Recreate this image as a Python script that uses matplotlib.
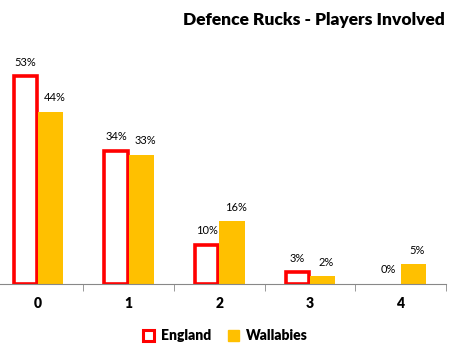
import numpy as np
import matplotlib.pyplot as plt
from matplotlib.patches import Patch

plt.rcParams['font.family'] = ['Lato', 'DejaVu Sans']

# данные
categories = ['0', '1', '2', '3', '4']
england = [53, 34, 10, 3, 0]
wallabies = [44, 33, 16, 2, 5]

red = '#FF0000'
gold = '#FFC000'

fig = plt.figure(figsize=(4.54, 3.53), dpi=100)
ax = fig.add_axes([0.0, (353 - 284) / 353, 446 / 454, 235 / 353])

x = np.arange(len(categories))
w = 0.26
lw = [2.6 if v > 0 else 0 for v in england]
ax.bar(x - w / 2 - 0.01, england, w, facecolor='white', edgecolor=red, linewidth=lw)
ax.bar(x + w / 2 + 0.01, wallabies, w + 0.02, color=gold)

# подписи значений
for i, v in enumerate(england):
    ax.text(i - w / 2 - 0.01, v + 2.2, f'{v}%', ha='center', va='bottom', fontsize=8)
for i, v in enumerate(wallabies):
    ax.text(i + w / 2 + 0.05, v + 2.2, f'{v}%', ha='center', va='bottom', fontsize=8)

ax.set_xlim(-0.42, 4.5)
ax.set_ylim(0, 60)
ax.set_yticks([])
for s in ['top', 'right', 'left']:
    ax.spines[s].set_visible(False)
ax.spines['bottom'].set_color('#888888')
ax.set_xticks(x)
ax.set_xticklabels(categories, fontweight='heavy', fontsize=10)
ax.tick_params(axis='x', length=0, pad=9)
ax.set_xticks(np.arange(0.5, 5, 1), minor=True)
ax.tick_params(axis='x', which='minor', length=5, color='#888888')

fig.text(445 / 454, 1 - 20 / 353, 'Defence Rucks - Players Involved', ha='right', va='center',
         fontsize=12.5, fontweight='heavy')

handles = [Patch(facecolor='white', edgecolor=red, linewidth=2.2),
           Patch(facecolor=gold, edgecolor=gold)]
fig.legend(handles, ['England', 'Wallabies'], loc='center', bbox_to_anchor=(225 / 454, 1 - 336 / 353),
           ncol=2, frameon=False, prop={'weight': 'heavy', 'size': 10},
           handlelength=0.8, handleheight=0.8, columnspacing=1.2, handletextpad=0.5)

fig.savefig('out.png', dpi=100)
